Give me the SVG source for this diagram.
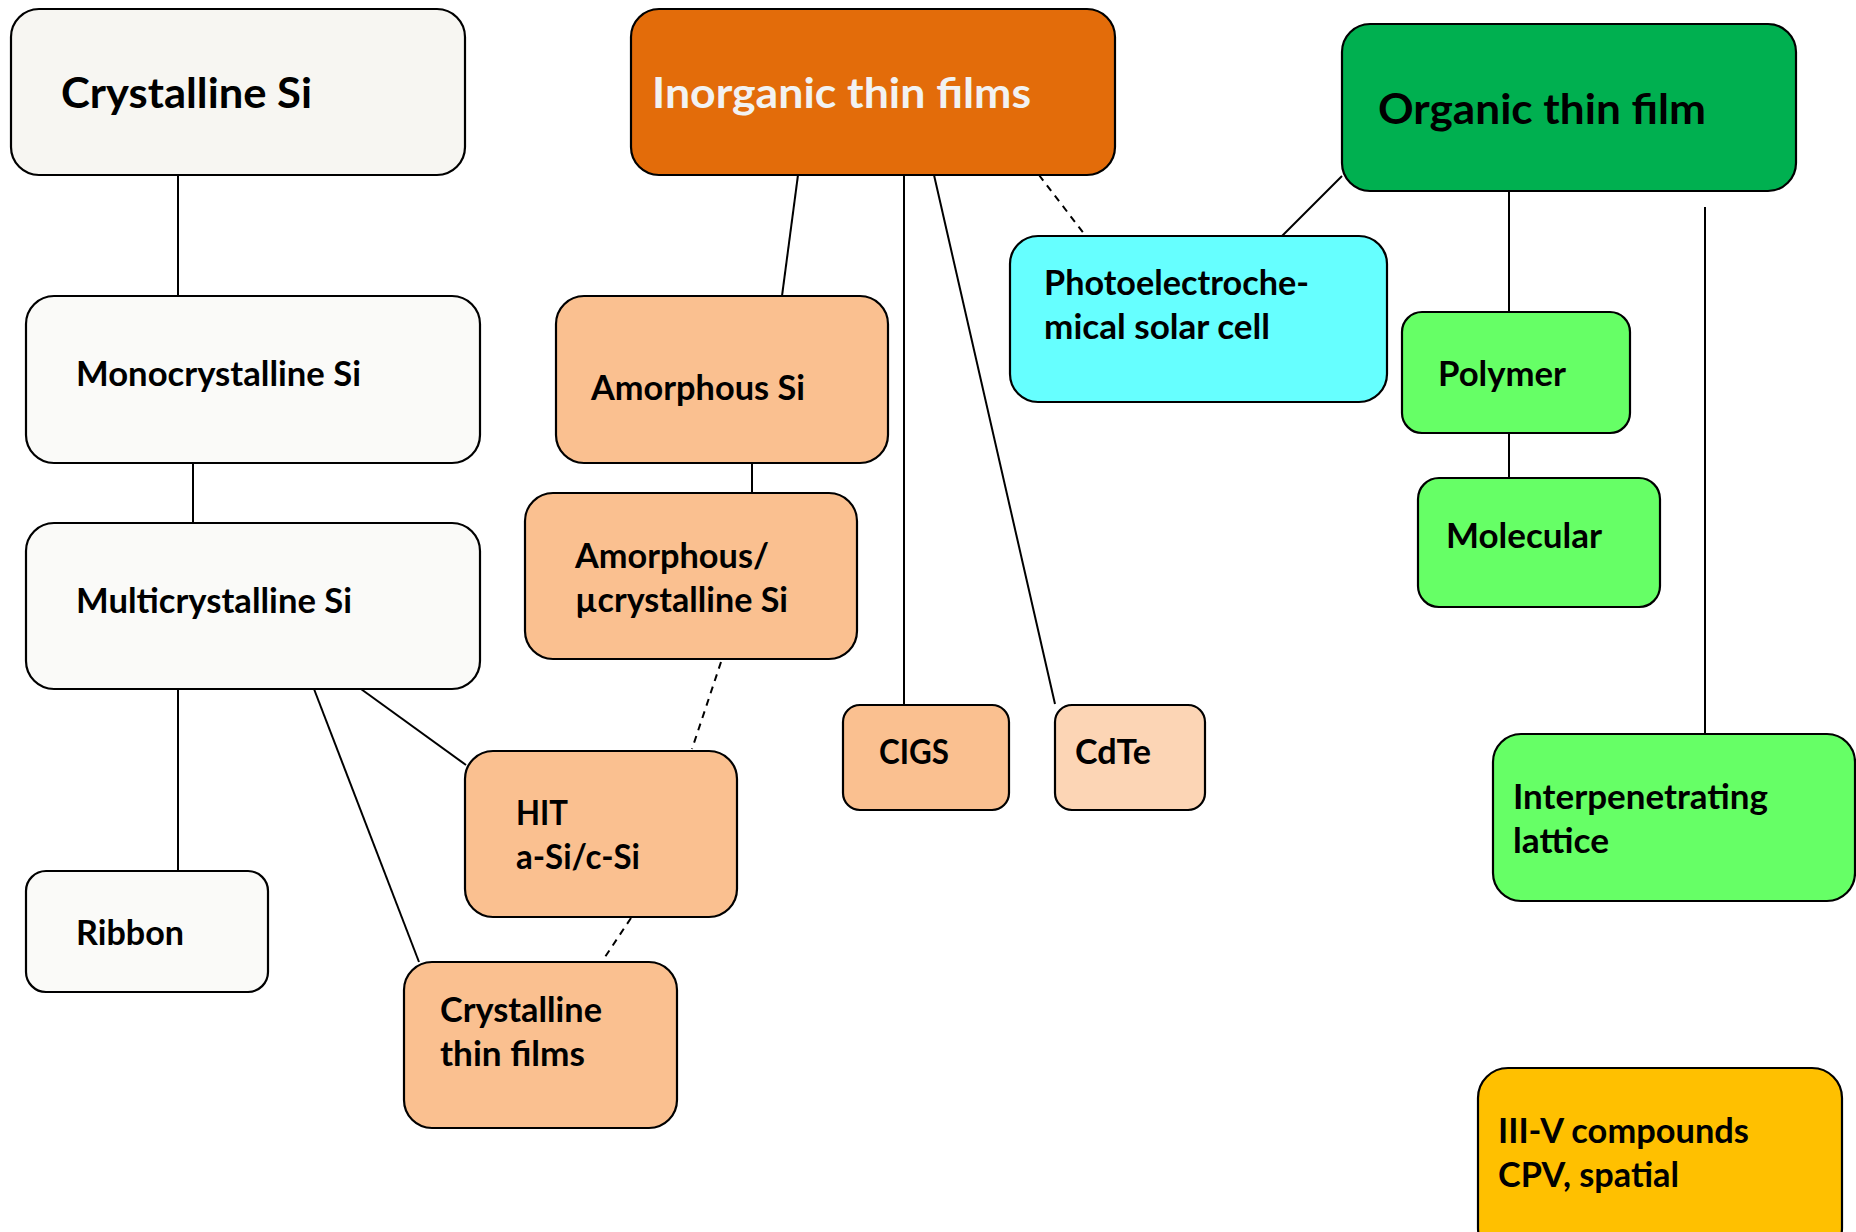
<svg xmlns="http://www.w3.org/2000/svg" width="1856" height="1232" viewBox="0 0 1856 1232">
<style>
.box{stroke:#000;stroke-width:2.2}
.t{font-family:Lato,"Open Sans","Liberation Sans",sans-serif;font-weight:bold;font-size:34px;fill:#000}
.h{font-size:42px}
.w{fill:#F2F2F2}
.ln{stroke:#000;stroke-width:2;fill:none}
.ds{stroke-dasharray:7 6}
.cw{fill:#F7F6F2}.cw2{fill:#FAFAF8}.inorg{fill:#E36C0A}.or{fill:#FAC090}.or2{fill:#FCD5B5}
.cy{fill:#66FFFF}.dg{fill:#00B050}.lg{fill:#66FF66}.yl{fill:#FFC000}
</style>
<rect width="1856" height="1232" fill="#fff"/>
<g id="connectors">
<line class="ln" x1="178" y1="175" x2="178" y2="296"/>
<line class="ln" x1="193" y1="463" x2="193" y2="523"/>
<line class="ln" x1="178" y1="689" x2="178" y2="871"/>
<line class="ln" x1="314" y1="689" x2="419" y2="962"/>
<line class="ln" x1="361" y1="689" x2="466" y2="765"/>
<line class="ln" x1="798" y1="175" x2="782" y2="296"/>
<line class="ln" x1="752" y1="463" x2="752" y2="493"/>
<line class="ln" x1="904" y1="175" x2="904" y2="705"/>
<line class="ln" x1="934" y1="175" x2="1055" y2="704"/>
<line class="ln ds" x1="1039" y1="175" x2="1085" y2="235"/>
<line class="ln ds" x1="721" y1="662" x2="692" y2="749"/>
<line class="ln ds" x1="631" y1="918" x2="603" y2="960"/>
<line class="ln" x1="1342" y1="176" x2="1282" y2="236"/>
<line class="ln" x1="1509" y1="191" x2="1509" y2="312"/>
<line class="ln" x1="1509" y1="433" x2="1509" y2="478"/>
<line class="ln" x1="1705" y1="207" x2="1705" y2="734"/>
</g>
<g id="crystalline-si">
<rect class="box cw" x="11" y="9" width="454" height="166" rx="28"/>
<text class="t h" x="61" y="108" textLength="251" lengthAdjust="spacingAndGlyphs">Crystalline Si</text>
</g>
<g id="monocrystalline-si">
<rect class="box cw2" x="26" y="296" width="454" height="167" rx="28"/>
<text class="t" x="76" y="386" textLength="285" lengthAdjust="spacingAndGlyphs">Monocrystalline Si</text>
</g>
<g id="multicrystalline-si">
<rect class="box cw2" x="26" y="523" width="454" height="166" rx="28"/>
<text class="t" x="76" y="613" textLength="276" lengthAdjust="spacingAndGlyphs">Multicrystalline Si</text>
</g>
<g id="ribbon">
<rect class="box cw2" x="26" y="871" width="242" height="121" rx="20"/>
<text class="t" x="76" y="945" textLength="108" lengthAdjust="spacingAndGlyphs">Ribbon</text>
</g>
<g id="inorganic-thin-films">
<rect class="box inorg" x="631" y="9" width="484" height="166" rx="28"/>
<text class="t h w" x="652" y="108" textLength="379" lengthAdjust="spacingAndGlyphs">Inorganic thin films</text>
</g>
<g id="amorphous-si">
<rect class="box or" x="556" y="296" width="332" height="167" rx="28"/>
<text class="t" x="591" y="400" textLength="214" lengthAdjust="spacingAndGlyphs">Amorphous Si</text>
</g>
<g id="amorphous-microcrystalline-si">
<rect class="box or" x="525" y="493" width="332" height="166" rx="28"/>
<text class="t" x="575" y="568" textLength="194" lengthAdjust="spacingAndGlyphs">Amorphous/</text>
<text class="t" x="575" y="612" textLength="213" lengthAdjust="spacingAndGlyphs">µcrystalline Si</text>
</g>
<g id="hit">
<rect class="box or" x="465" y="751" width="272" height="166" rx="28"/>
<text class="t" x="516" y="825" textLength="52" lengthAdjust="spacingAndGlyphs">HIT</text>
<text class="t" x="516" y="869" textLength="124" lengthAdjust="spacingAndGlyphs">a-Si/c-Si</text>
</g>
<g id="crystalline-thin-films">
<rect class="box or" x="404" y="962" width="273" height="166" rx="28"/>
<text class="t" x="440" y="1022" textLength="162" lengthAdjust="spacingAndGlyphs">Crystalline</text>
<text class="t" x="440" y="1066" textLength="145" lengthAdjust="spacingAndGlyphs">thin films</text>
</g>
<g id="cigs">
<rect class="box or" x="843" y="705" width="166" height="105" rx="17"/>
<text class="t" x="879" y="764" textLength="70" lengthAdjust="spacingAndGlyphs">CIGS</text>
</g>
<g id="cdte">
<rect class="box or2" x="1055" y="705" width="150" height="105" rx="17"/>
<text class="t" x="1075" y="764" textLength="76" lengthAdjust="spacingAndGlyphs">CdTe</text>
</g>
<g id="photoelectrochemical">
<rect class="box cy" x="1010" y="236" width="377" height="166" rx="28"/>
<text class="t" x="1044" y="295" textLength="265" lengthAdjust="spacingAndGlyphs">Photoelectroche-</text>
<text class="t" x="1044" y="339" textLength="226" lengthAdjust="spacingAndGlyphs">mical solar cell</text>
</g>
<g id="organic-thin-film">
<rect class="box dg" x="1342" y="24" width="454" height="167" rx="28"/>
<text class="t h" x="1378" y="124" textLength="328" lengthAdjust="spacingAndGlyphs">Organic thin film</text>
</g>
<g id="polymer">
<rect class="box lg" x="1402" y="312" width="228" height="121" rx="20"/>
<text class="t" x="1438" y="386" textLength="128" lengthAdjust="spacingAndGlyphs">Polymer</text>
</g>
<g id="molecular">
<rect class="box lg" x="1418" y="478" width="242" height="129" rx="21"/>
<text class="t" x="1446" y="548" textLength="156" lengthAdjust="spacingAndGlyphs">Molecular</text>
</g>
<g id="interpenetrating-lattice">
<rect class="box lg" x="1493" y="734" width="362" height="167" rx="28"/>
<text class="t" x="1513" y="809" textLength="255" lengthAdjust="spacingAndGlyphs">Interpenetrating</text>
<text class="t" x="1513" y="853" textLength="96" lengthAdjust="spacingAndGlyphs">lattice</text>
</g>
<g id="iii-v-compounds">
<rect class="box yl" x="1478" y="1068" width="364" height="190" rx="30"/>
<text class="t" x="1498" y="1143" textLength="251" lengthAdjust="spacingAndGlyphs">III-V compounds</text>
<text class="t" x="1498" y="1187" textLength="181" lengthAdjust="spacingAndGlyphs">CPV, spatial</text>
</g>
</svg>
